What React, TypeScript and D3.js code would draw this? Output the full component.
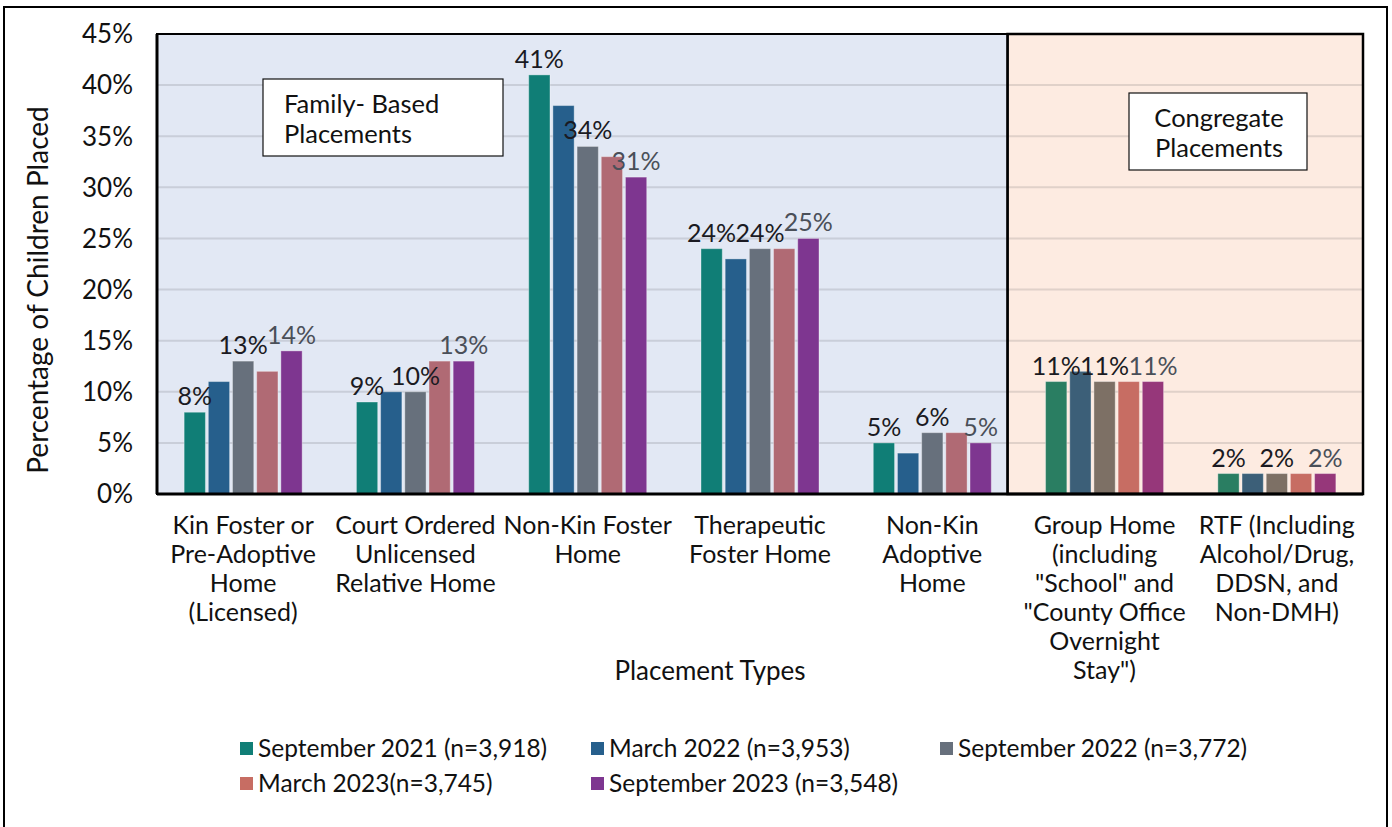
import React from "react";
import * as d3 from "d3";

const categories = [
  ["Kin Foster or", "Pre-Adoptive", "Home", "(Licensed)"],
  ["Court Ordered", "Unlicensed", "Relative Home"],
  ["Non-Kin Foster", "Home"],
  ["Therapeutic", "Foster Home"],
  ["Non-Kin", "Adoptive", "Home"],
  ["Group Home", "(including", "\"School\" and", "\"County Office", "Overnight", "Stay\")"],
  ["RTF (Including", "Alcohol/Drug,", "DDSN, and", "Non-DMH)"],
];

const seriesNames = [
  "September 2021 (n=3,918)",
  "March 2022 (n=3,953)",
  "September 2022 (n=3,772)",
  "March 2023(n=3,745)",
  "September 2023 (n=3,548)",
];

// percent per category, one row per series
const sep2021 = [8, 9, 41, 24, 5, 11, 2];
const mar2022 = [11, 10, 38, 23, 4, 12, 2];
const sep2022 = [13, 10, 34, 24, 6, 11, 2];
const mar2023 = [12, 13, 33, 24, 6, 11, 2];
const sep2023 = [14, 13, 31, 25, 5, 11, 2];
const seriesValues = [sep2021, mar2022, sep2022, mar2023, sep2023];

// series that carry a data label
const labelledSeries = [0, 2, 4];

const yTicks = [0, 5, 10, 15, 20, 25, 30, 35, 40, 45];

const familyColors = ["#107E76", "#265F8C", "#67707C", "#B06A74", "#7E3690"];
const congregateColors = ["#2A7E62", "#3C5F78", "#7D7065", "#C76D63", "#96377A"];
const legendColors = ["#107E76", "#265F8C", "#67707C", "#C76D63", "#7E3690"];

const font = "Lato, 'Open Sans', sans-serif";

export default function App() {
  const width = 1392;
  const height = 827;
  const m = { left: 157, right: 1363, top: 34, bottom: 494 };
  const familyCount = 5;

  const idx = categories.map((_, i) => i);
  const x0 = d3
    .scaleBand<number>()
    .domain(idx)
    .range([m.left, m.right])
    .paddingInner(0.315)
    .paddingOuter(0.1575);
  const x1 = d3
    .scaleBand<number>()
    .domain(seriesValues.map((_, i) => i))
    .range([0, x0.bandwidth()])
    .paddingInner(0.12);
  const y = d3.scaleLinear().domain([0, 45]).range([m.bottom, m.top]);

  // family / congregate divider sits a bit left of the band boundary
  const splitX = x0(familyCount)! - 38;

  return (
    <div style={{ position: "fixed", left: 0, top: 0 }}>
      <svg width={width} height={height} style={{ display: "block", background: "#fff" }}>
        {/* outer frame */}
        <rect x={4} y={7} width={1383} height={840} fill="none" stroke="#000" strokeWidth={2} />

        {/* regions */}
        <rect x={m.left} y={m.top} width={splitX - m.left} height={m.bottom - m.top} fill="#E2E8F4" />
        <rect x={splitX} y={m.top} width={m.right - splitX} height={m.bottom - m.top} fill="#FDEBE1" />

        {/* gridlines */}
        {yTicks.slice(1, -1).map((t) => (
          <line
            key={t}
            x1={m.left}
            x2={m.right}
            y1={y(t)}
            y2={y(t)}
            stroke="rgba(60,60,70,0.15)"
            strokeWidth={2}
          />
        ))}

        {/* bars */}
        {seriesValues.map((vals, s) =>
          vals.map((v, c) => (
            <rect
              key={`${s}-${c}`}
              x={x0(c)! + x1(s)!}
              y={y(v)}
              width={x1.bandwidth()}
              height={y(0) - y(v)}
              fill={c < familyCount ? familyColors[s] : congregateColors[s]}
              stroke="rgba(255,255,255,0.35)"
              strokeWidth={1}
            />
          ))
        )}

        {/* region borders */}
        <rect x={m.left} y={m.top} width={splitX - m.left} height={m.bottom - m.top} fill="none" stroke="#000" strokeWidth={2} />
        <rect x={splitX} y={m.top} width={m.right - splitX} height={m.bottom - m.top} fill="none" stroke="#000" strokeWidth={2.5} />
        <line x1={m.left} x2={m.left} y1={m.top} y2={m.bottom} stroke="#000" strokeWidth={3} />
        <line x1={m.left} x2={m.right} y1={m.bottom} y2={m.bottom} stroke="#000" strokeWidth={3} />

        {/* data labels */}
        {labelledSeries.map((s) =>
          seriesValues[s].map((v, c) => (
            <text
              key={`l${s}-${c}`}
              x={x0(c)! + x1(s)! + x1.bandwidth() / 2}
              y={y(v) - 7}
              textAnchor="middle"
              fontFamily={font}
              fontSize={25}
              fill={s === 4 ? "#4A4F58" : "#1A1A22"}
            >
              {v}%
            </text>
          ))
        )}

        {/* y axis */}
        {yTicks.map((t) => (
          <text
            key={t}
            x={133}
            y={y(t)}
            dy="0.36em"
            textAnchor="end"
            fontFamily={font}
            fontSize={26}
            fill="#111"
          >
            {t}%
          </text>
        ))}
        <text
          transform={`translate(38,${(m.top + m.bottom) / 2 + 26}) rotate(-90)`}
          dy="0.35em"
          textAnchor="middle"
          fontFamily={font}
          fontSize={28}
          fill="#111"
        >
          Percentage of Children Placed
        </text>

        {/* x axis labels */}
        {categories.map((lines, c) => (
          <text
            key={c}
            x={x0(c)! + x0.bandwidth() / 2}
            y={534}
            textAnchor="middle"
            fontFamily={font}
            fontSize={25}
            fill="#111"
          >
            {lines.map((ln, i) => (
              <tspan key={i} x={x0(c)! + x0.bandwidth() / 2} dy={i === 0 ? 0 : 29}>
                {ln}
              </tspan>
            ))}
          </text>
        ))}
        <text x={710} y={680} textAnchor="middle" fontFamily={font} fontSize={26} fill="#111">
          Placement Types
        </text>

        {/* annotation boxes */}
        <rect x={263} y={79} width={240} height={77} fill="#fff" stroke="#111" strokeWidth={1.2} />
        <text x={284} y={113} fontFamily={font} fontSize={25.5} fill="#111">
          <tspan x={284}>Family- Based</tspan>
          <tspan x={284} dy={30}>Placements</tspan>
        </text>
        <rect x={1129} y={93} width={178} height={77} fill="#fff" stroke="#111" strokeWidth={1.2} />
        <text x={1219} y={127} textAnchor="middle" fontFamily={font} fontSize={25.5} fill="#111">
          <tspan x={1219}>Congregate</tspan>
          <tspan x={1219} dy={30}>Placements</tspan>
        </text>

        {/* legend */}
        {seriesNames.map((name, i) => {
          const row = i < 3 ? 0 : 1;
          const col = i < 3 ? i : i - 3;
          const lx = [240, 591, 940][col];
          const ly = row === 0 ? 742 : 777;
          return (
            <g key={name} transform={`translate(${lx},${ly})`}>
              <rect width={13} height={13} fill={legendColors[i]} />
              <text x={18} y={15} fontFamily={font} fontSize={24.5} fill="#111">
                {name}
              </text>
            </g>
          );
        })}
      </svg>
    </div>
  );
}
